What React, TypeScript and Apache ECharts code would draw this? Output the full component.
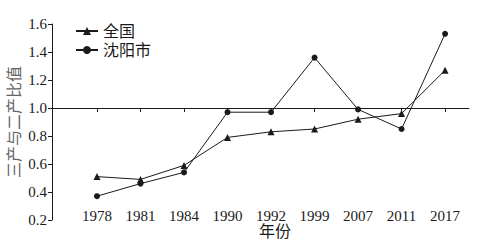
import React, { useEffect, useRef } from "react";
import * as echarts from "echarts";

const years = ["1978", "1981", "1984", "1990", "1992", "1999", "2007", "2011", "2017"];
const nationalValues = [0.51, 0.49, 0.59, 0.79, 0.83, 0.85, 0.92, 0.96, 1.27];
const shenyangValues = [0.37, 0.46, 0.54, 0.97, 0.97, 1.36, 0.99, 0.85, 1.53];
const seriesNames = ["全国", "沈阳市"];
const yAxisName = "三产与二产比值";
const xAxisName = "年份";

const SERIF = "'Liberation Serif', 'Noto Sans CJK SC', serif";
const INK = "#1a1a1a";

export default function App() {
  const ref = useRef<HTMLDivElement>(null);

  useEffect(() => {
    document.body.style.margin = "0";
    if (!ref.current) return;
    const chart = echarts.init(ref.current, undefined, { renderer: "svg" });
    // category slot positions on a value axis; first slot is one band right of the y axis
    const lead = 1.034;
    const pos = years.map((_, i) => i + lead);
    const xMin = 0;
    const xMax = years.length - 1 + lead + 0.55;
    const gridTop = 24;
    const gridBottom = 31;
    const gridHeight = 251 - gridTop - gridBottom;
    const yMin = 0.2;
    const yMax = 1.6;
    const crossValue = 1.0;
    const crossOffset = -((crossValue - yMin) / (yMax - yMin)) * gridHeight;
    const labelFor = (v: number) => {
      const k = Math.round(v - lead);
      return Math.abs(v - lead - k) < 1e-6 && years[k] ? years[k] : "";
    };

    chart.setOption({
      animation: false,
      backgroundColor: "#fff",
      grid: {
        left: 52,
        right: 16,
        top: gridTop,
        bottom: gridBottom,
        containLabel: false,
        outerBoundsMode: "none",
      },
      legend: {
        orient: "vertical",
        left: 70,
        top: 18,
        itemWidth: 22,
        itemHeight: 10,
        itemGap: 3,
        textStyle: { fontFamily: SERIF, fontSize: 16, color: INK },
        data: seriesNames,
      },
      xAxis: [
        {
          type: "value",
          min: xMin,
          max: xMax,
          position: "bottom",
          axisLine: { show: false },
          axisTick: { show: false },
          splitLine: { show: false },
          axisLabel: {
            customValues: pos,
            formatter: labelFor,
            fontFamily: SERIF,
            fontSize: 15,
            color: INK,
            margin: -12,
          },
        },
        {
          type: "value",
          min: xMin,
          max: xMax,
          position: "bottom",
          offset: crossOffset,
          axisLine: { show: true, onZero: false, lineStyle: { color: INK, width: 1 } },
          axisTick: { show: true, customValues: pos, length: 4, lineStyle: { color: INK } },
          axisLabel: { show: false },
          splitLine: { show: false },
        },
      ],
      yAxis: {
        type: "value",
        min: yMin,
        max: yMax,
        interval: 0.2,
        position: "left",
        name: yAxisName,
        nameLocation: "middle",
        nameRotate: 90,
        nameGap: 30,
        nameMoveOverlap: false,
        nameTextStyle: { fontFamily: SERIF, fontSize: 16, color: "#666" },
        axisLine: { show: true, lineStyle: { color: INK, width: 1 } },
        axisTick: { show: true, length: 4, lineStyle: { color: INK } },
        splitLine: { show: false },
        axisLabel: {
          formatter: (v: number) => v.toFixed(1),
          fontFamily: SERIF,
          fontSize: 15,
          color: INK,
          margin: 5,
        },
      },
      graphic: [
        {
          type: "text",
          left: 259,
          top: 223,
          style: { text: xAxisName, font: `16px ${SERIF}`, fill: INK },
        },
      ],
      series: [
        {
          name: seriesNames[0],
          type: "line",
          xAxisIndex: 0,
          data: nationalValues.map((v, i) => [pos[i], v]),
          symbol: "triangle",
          symbolSize: 7,
          lineStyle: { color: INK, width: 1 },
          itemStyle: { color: INK },
        },
        {
          name: seriesNames[1],
          type: "line",
          xAxisIndex: 0,
          data: shenyangValues.map((v, i) => [pos[i], v]),
          symbol: "circle",
          symbolSize: 6,
          lineStyle: { color: INK, width: 1 },
          itemStyle: { color: INK },
        },
      ],
    });
    return () => chart.dispose();
  }, []);

  return (
    <div
      ref={ref}
      style={{ position: "fixed", left: 0, top: 0, width: 485, height: 251, background: "#fff" }}
    />
  );
}
